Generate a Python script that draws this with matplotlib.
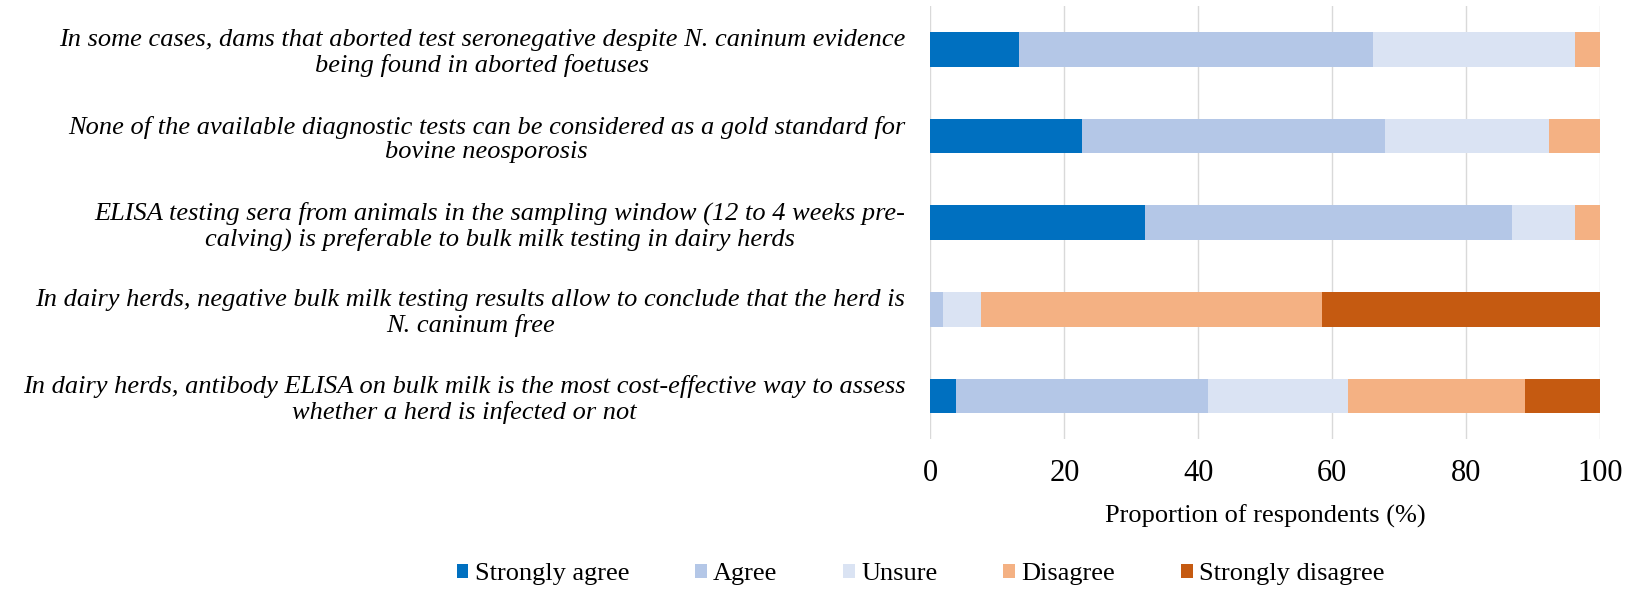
import matplotlib.pyplot as plt
import numpy as np

plt.rcParams['font.family'] = ['Liberation Serif', 'DejaVu Serif']

statements = [
    "In some cases, dams that aborted test seronegative despite N. caninum evidence\nbeing found in aborted foetuses",
    "None of the available diagnostic tests can be considered as a gold standard for\nbovine neosporosis",
    "ELISA testing sera from animals in the sampling window (12 to 4 weeks pre-\ncalving) is preferable to bulk milk testing in dairy herds",
    "In dairy herds, negative bulk milk testing results allow to conclude that the herd is\nN. caninum free",
    "In dairy herds, antibody ELISA on bulk milk is the most cost-effective way to assess\nwhether a herd is infected or not",
]

responses = ["Strongly agree", "Agree", "Unsure", "Disagree", "Strongly disagree"]

# % of respondents per statement, one list per answer
strongly_agree = [13.2, 22.6, 32.1, 0.0, 3.8]
agree = [52.8, 45.3, 54.7, 1.9, 37.7]
unsure = [30.2, 24.5, 9.4, 5.7, 20.8]
disagree = [3.8, 7.5, 3.8, 50.9, 26.4]
strongly_disagree = [0.0, 0.0, 0.0, 41.5, 11.3]

colors = ["#0070C0", "#B4C7E7", "#DAE3F3", "#F4B183", "#C55A11"]

fig = plt.figure(figsize=(16.38, 5.92), dpi=100)
ax = fig.add_axes([0.568, 0.258, 0.409, 0.732])

y = np.arange(len(statements))
left = np.zeros(len(statements))
for name, vals, c in zip(responses,
                         [strongly_agree, agree, unsure, disagree, strongly_disagree],
                         colors):
    ax.barh(y, vals, left=left, height=0.4, color=c, label=name, zorder=3)
    left += np.array(vals)

ax.set_xlim(0, 100)
ax.set_ylim(4.5, -0.5)
ax.set_xticks([0, 20, 40, 60, 80, 100])
ax.set_yticks(y)
ax.set_yticklabels(statements, fontsize=19, style='italic', linespacing=1.15)
for lab in ax.get_yticklabels():
    lab.set_multialignment('center')
ax.tick_params(axis='both', length=0)
ax.tick_params(axis='x', labelsize=22, pad=14)
ax.tick_params(axis='y', pad=18)

ax.grid(axis='x', color='#D9D9D9', linewidth=1, zorder=0)
for s in ax.spines.values():
    s.set_visible(False)

ax.set_xlabel("Proportion of respondents (%)", fontsize=19, labelpad=12)

fig.legend(loc='center', bbox_to_anchor=(0.562, 0.03), ncol=5, frameon=False,
           fontsize=19, handlelength=0.45, handleheight=0.45, handletextpad=0.23,
           columnspacing=2.5)

fig.savefig("out.png", dpi=100)
